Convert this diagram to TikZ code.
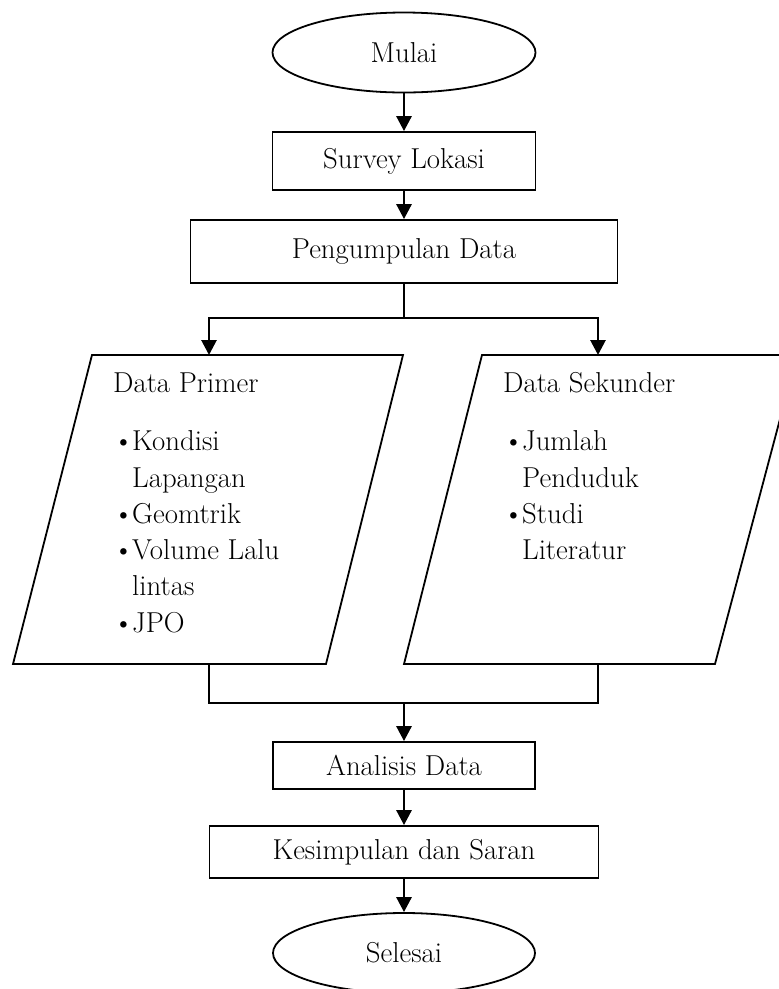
\documentclass[tikz,border=0pt]{standalone}
\usetikzlibrary{shapes.geometric,arrows.meta}
\begin{document}
\begin{tikzpicture}[x=1pt,y=-1pt,
  every node/.style={font=\fontsize{28.8}{36.5}\selectfont},
  boxnode/.style={draw,line width=1.8pt,inner sep=0pt,rectangle},
  termnode/.style={draw,line width=1.8pt,inner sep=0pt,ellipse},
  conn/.style={line width=2.8pt},
  arr/.style={line width=2.8pt,-{Triangle[width=15pt,length=15pt]}},
  para/.style={line width=1.8pt},
  txt/.style={anchor=base west,inner sep=0pt}]
\useasboundingbox (0,0) rectangle (779,989);
\clip (0,0) rectangle (779,989);

\node[termnode,minimum width=263,minimum height=80] (mulai) at (404,52.5) {Mulai};
\node[boxnode,minimum width=263,minimum height=58] (survey) at (404,161) {Survey Lokasi};
\node[boxnode,minimum width=427,minimum height=63] (kumpul) at (404,251.5) {Pengumpulan Data};
\node[boxnode,minimum width=262,minimum height=47] (analisis) at (404,765.5) {Analisis Data};
\node[boxnode,minimum width=389,minimum height=52] (kesimpulan) at (404,852) {Kesimpulan dan Saran};
\node[termnode,minimum width=262,minimum height=80] (selesai) at (404,953) {Selesai};

% parallelograms
\coordinate (ltl) at (92,355); \coordinate (ltr) at (403,355);
\coordinate (lbr) at (326,664); \coordinate (lbl) at (13,664);
\coordinate (rtl) at (482,355); \coordinate (rtr) at (797,355);
\coordinate (rbr) at (715,664); \coordinate (rbl) at (404,664);
\draw[para] (ltl) -- (ltr) -- (lbr) -- (lbl) -- cycle;
\draw[para] (rtl) -- (rtr) -- (rbr) -- (rbl) -- cycle;

% texts in primer
\node[txt] (p0) at (113,392) {Data Primer};
\node[txt] (p1) at (113,450) {\textbullet};
\node[txt] (p1t) at (132,450) {Kondisi};
\node[txt] (p2t) at (132,487) {Lapangan};
\node[txt] (p3) at (113,523) {\textbullet};
\node[txt] (p3t) at (132,523) {Geomtrik};
\node[txt] (p4) at (113,559) {\textbullet};
\node[txt] (p4t) at (132,559) {Volume Lalu};
\node[txt] (p5t) at (132,595) {lintas};
\node[txt] (p6) at (113,632) {\textbullet};
\node[txt] (p6t) at (132,632) {JPO};

% texts in sekunder
\node[txt] (s0) at (503,392) {Data Sekunder};
\node[txt] (s1) at (503,450) {\textbullet};
\node[txt] (s1t) at (522,450) {Jumlah};
\node[txt] (s2t) at (522,487) {Penduduk};
\node[txt] (s3) at (503,523) {\textbullet};
\node[txt] (s3t) at (522,523) {Studi};
\node[txt] (s4t) at (522,559) {Literatur};

% connectors
\draw[arr] (mulai.south) -- (survey.north);
\draw[arr] (survey.south) -- (kumpul.north);
\coordinate (sp) at (404,318);
\coordinate (ptop) at (209,355);
\coordinate (stop) at (598,355);
\draw[conn] (kumpul.south) -- (sp);
\draw[arr] (sp) -| (ptop);
\draw[arr] (sp) -| (stop);

\coordinate (pbot) at (209,664);
\coordinate (sbot) at (598,664);
\coordinate (jl) at (209,703);
\coordinate (jr) at (598,703);
\coordinate (jn) at (404,703);
\draw[conn] (pbot) -- (jl) -- (jr) -- (sbot);
\draw[arr] (jn) -- (analisis.north);
\draw[arr] (analisis.south) -- (kesimpulan.north);
\draw[arr] (kesimpulan.south) -- (selesai.north);
\end{tikzpicture}
\end{document}
